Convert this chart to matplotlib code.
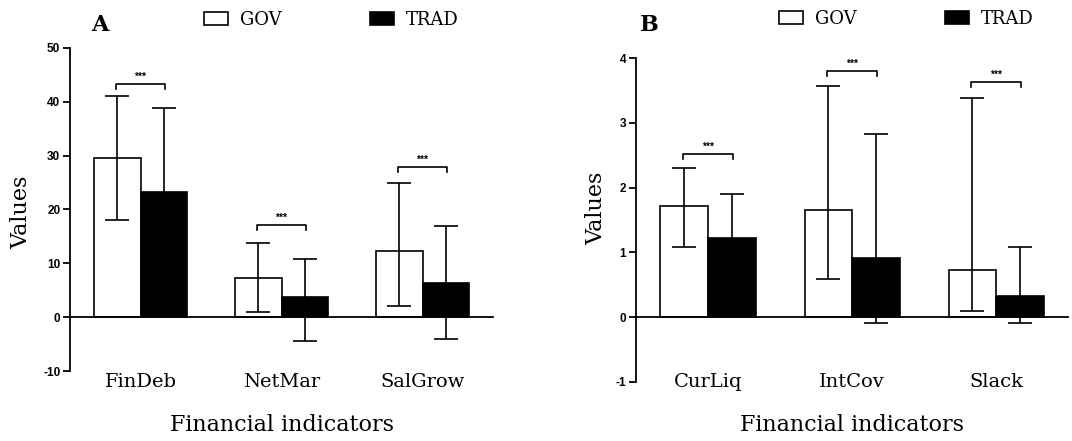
import numpy as np
import matplotlib.pyplot as plt
import matplotlib.transforms as mtransforms
from matplotlib.patches import Patch

plt.rcParams['axes.unicode_minus'] = False

# Panel A data
cats_a = ['FinDeb', 'NetMar', 'SalGrow']
gov_a = [29.6, 7.2, 12.3]
gov_a_lo = [11.5, 6.2, 10.2]
gov_a_hi = [11.5, 6.5, 12.7]
trad_a = [23.3, 3.7, 6.4]
trad_a_lo = [15.6, 8.2, 10.5]
trad_a_hi = [15.6, 7.1, 10.5]
sig_a = [43.4, 17.2, 27.9]

# Panel B data
cats_b = ['CurLiq', 'IntCov', 'Slack']
gov_b = [1.72, 1.66, 0.72]
gov_b_lo = [0.63, 1.07, 0.62]
gov_b_hi = [0.58, 1.91, 2.66]
trad_b = [1.22, 0.91, 0.32]
trad_b_lo = [0.68, 1.00, 0.41]
trad_b_hi = [0.68, 1.92, 0.77]
sig_b = [2.52, 3.80, 3.64]

serif = 'DejaVu Serif'
sans = 'Liberation Sans'
W = 0.33


def panel(ax, cats, gov, glo, ghi, trad, tlo, thi, sig, ylim, yticks, letter, dy, pos):
    x = np.arange(len(cats))
    ekw = dict(ecolor='black', elinewidth=1.2, capsize=8.5, capthick=1.2)
    ax.bar(x - W / 2, gov, W, yerr=[glo, ghi], color='white', edgecolor='black',
           linewidth=1.2, error_kw=ekw, zorder=2)
    ax.bar(x + W / 2, trad, W, yerr=[tlo, thi], color='black', edgecolor='black',
           linewidth=1.2, error_kw=ekw, zorder=2)
    for xi, s in zip(x, sig):
        x0, x1 = xi - W / 2 - 0.01, xi + W / 2 + 0.01
        ax.plot([x0, x0, x1, x1], [s - dy, s, s, s - dy], color='black', lw=1.2)
        ax.text(xi, s + dy * 0.4, '***', ha='center', va='bottom',
                fontsize=7.5, fontweight='bold', family=sans)
    ax.set_xlim(-0.5, 2.5)
    ax.set_ylim(*ylim)
    ax.set_yticks(yticks)
    ax.set_xticks([])
    ax.spines['top'].set_visible(False)
    ax.spines['right'].set_visible(False)
    ax.spines['bottom'].set_position(('data', 0))
    ax.spines['left'].set_linewidth(1.3)
    ax.spines['bottom'].set_linewidth(1.3)
    ax.tick_params(axis='y', direction='out', length=5, width=1.3, labelsize=8.5, pad=2)
    for lab in ax.get_yticklabels():
        lab.set_fontweight('bold')
        lab.set_family(sans)
    trans = mtransforms.blended_transform_factory(ax.transData, fig.transFigure)
    for xi, c in zip(x, cats):
        ax.text(xi, 1 - 381.7 / 441, c, ha='center', va='center', fontsize=14,
                family=serif, transform=trans)
    ax.text(0.5, 1 - 425 / 441, 'Financial indicators', ha='center', va='center',
            fontsize=16, family=serif,
            transform=mtransforms.blended_transform_factory(ax.transAxes, fig.transFigure))
    ax.set_ylabel('Values', fontsize=16, family=serif)
    ax.yaxis.set_label_coords(pos['ylab'][0], pos['ylab'][1])
    ax.text(pos['letter'][0], pos['letter'][1], letter, transform=ax.transAxes,
            fontsize=16, fontweight='bold', family=serif, ha='center', va='center')
    handles = [Patch(facecolor='white', edgecolor='black', linewidth=1.2, label='GOV'),
               Patch(facecolor='black', edgecolor='black', linewidth=1.2, label='TRAD')]
    ax.legend(handles=handles, ncol=2, frameon=False, loc='center left',
              bbox_to_anchor=pos['legend'], prop={'family': serif, 'size': 13},
              handlelength=1.33, handleheight=0.72, handletextpad=0.66,
              columnspacing=4.9, borderaxespad=0, borderpad=0)


fig = plt.figure(figsize=(10.72, 4.41), dpi=100)
ax1 = fig.add_axes([0.0653, 0.1587, 0.3946, 0.7325])
ax2 = fig.add_axes([0.5933, 0.1345, 0.403, 0.7333])

panel(ax1, cats_a, gov_a, gov_a_lo, gov_a_hi, trad_a, trad_a_lo, trad_a_hi, sig_a,
      (-10, 50), [-10, 0, 10, 20, 30, 40, 50], 'A', 1.0,
      dict(ylab=(-0.09, 0.49), letter=(0.071, 1.071), legend=(0.317, 1.087)))
panel(ax2, cats_b, gov_b, gov_b_lo, gov_b_hi, trad_b, trad_b_lo, trad_b_hi, sig_b,
      (-1, 4), [-1, 0, 1, 2, 3, 4], 'B', 0.08,
      dict(ylab=(-0.067, 0.537), letter=(0.032, 1.103), legend=(0.331, 1.122)))

fig.savefig('out.png', dpi=100)
